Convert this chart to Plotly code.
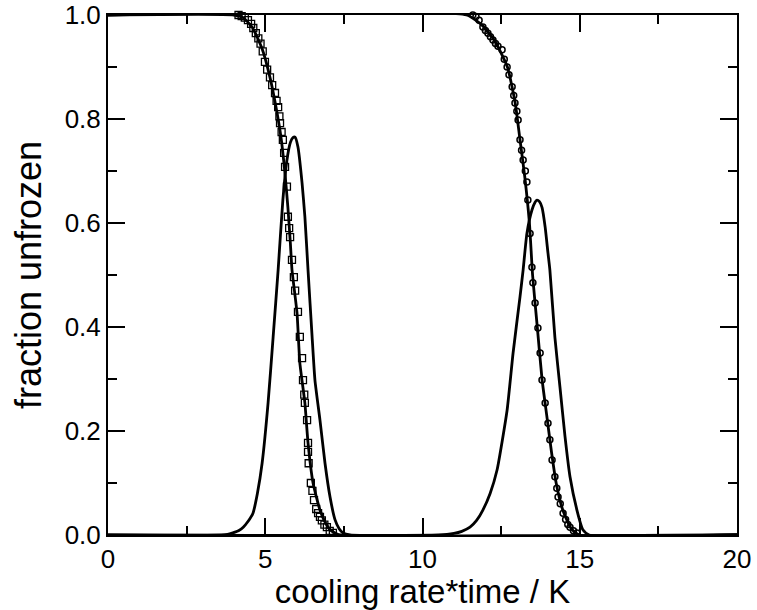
import plotly.graph_objects as go

# Series A (squares) - measured fraction unfrozen
sq_x = [4.15, 4.25, 4.35, 4.45, 4.55, 4.62, 4.7, 4.78, 4.85, 4.92, 4.99, 5.06, 5.15, 5.22, 5.31, 5.36,
        5.41, 5.45, 5.47, 5.52, 5.56, 5.6, 5.63, 5.69, 5.72, 5.76, 5.79, 5.85, 5.91, 5.95, 6.04, 6.1,
        6.17, 6.2, 6.24, 6.26, 6.33, 6.36, 6.36, 6.38, 6.45, 6.5, 6.55, 6.62, 6.68, 6.74, 6.8, 6.88,
        6.96, 7.05, 7.15]
sq_y = [1.0, 0.998, 0.995, 0.99, 0.983, 0.975, 0.965, 0.955, 0.945, 0.93, 0.91, 0.895, 0.88, 0.865, 0.85, 0.835,
        0.823, 0.805, 0.792, 0.775, 0.76, 0.735, 0.708, 0.67, 0.612, 0.59, 0.573, 0.529, 0.496, 0.47, 0.429, 0.381,
        0.34, 0.298, 0.27, 0.254, 0.221, 0.177, 0.16, 0.138, 0.1, 0.085, 0.067, 0.05, 0.042, 0.035, 0.028, 0.02,
        0.015, 0.008, 0.004]

# Fit line through series A
fitA_x = [0, 4.0, 4.3, 4.6, 4.9, 5.15, 5.35, 5.5, 5.62, 5.72, 5.8, 5.85, 6.01, 6.1, 6.26, 6.36, 6.52, 6.74, 6.9, 7.06, 7.25, 7.4, 20]
fitA_y = [1, 1, 0.995, 0.975, 0.935, 0.88, 0.82, 0.765, 0.7, 0.63, 0.56, 0.51, 0.427, 0.331, 0.254, 0.177, 0.1, 0.048, 0.025, 0.01, 0.003, 0, 0]

# Peak curve A
peakA_x = [0, 3.6, 3.8, 3.97, 4.15, 4.3, 4.45, 4.61, 4.75, 4.9, 5.09, 5.25, 5.41, 5.56, 5.69, 5.8, 5.88, 5.95, 6.04,
           6.17, 6.26, 6.36, 6.49, 6.58, 6.74, 6.9, 7.06, 7.22, 7.35, 7.47, 7.7, 20]
peakA_y = [0, 0, 0.001, 0.004, 0.008, 0.015, 0.026, 0.042, 0.08, 0.138, 0.254, 0.38, 0.51, 0.644, 0.721, 0.755,
           0.764, 0.765, 0.746, 0.677, 0.612, 0.51, 0.381, 0.298, 0.221, 0.138, 0.073, 0.029, 0.012, 0.004, 0, 0]

# Series B (circles)
ci_x = [11.6, 11.7, 11.8, 11.92, 12.0, 12.08, 12.16, 12.24, 12.32, 12.4, 12.53, 12.6, 12.69, 12.75, 12.85, 12.9,
        12.94, 13.0, 13.04, 13.1, 13.15, 13.2, 13.27, 13.32, 13.35, 13.42, 13.48, 13.51, 13.58, 13.67, 13.74, 13.8,
        13.9, 13.99, 14.05, 14.12, 14.21, 14.27, 14.31, 14.38, 14.47, 14.55, 14.62, 14.69, 14.8, 14.91]
ci_y = [1.0, 0.997, 0.99, 0.977, 0.97, 0.965, 0.958, 0.952, 0.945, 0.94, 0.933, 0.915, 0.9, 0.885, 0.862, 0.845,
        0.831, 0.815, 0.798, 0.76, 0.74, 0.721, 0.7, 0.679, 0.644, 0.58, 0.515, 0.485, 0.446, 0.398, 0.35, 0.298,
        0.254, 0.215, 0.183, 0.144, 0.112, 0.09, 0.073, 0.06, 0.042, 0.03, 0.02, 0.015, 0.008, 0.004]

# Fit line through series B
fitB_x = [0, 11.4, 11.9, 12.3, 12.7, 12.95, 13.1, 13.25, 13.4, 13.5, 13.65, 13.8, 13.95, 14.1, 14.25, 14.45, 14.7, 14.85, 15.0, 20]
fitB_y = [1, 1, 0.98, 0.95, 0.9, 0.83, 0.76, 0.69, 0.6, 0.5, 0.4, 0.3, 0.23, 0.16, 0.1, 0.05, 0.015, 0.005, 0, 0]

# Peak curve B
peakB_x = [0, 10.5, 11.0, 11.25, 11.51, 11.72, 11.92, 12.15, 12.37, 12.69, 12.88, 13.1, 13.2, 13.32, 13.48, 13.58,
           13.64, 13.72, 13.8, 13.9, 13.99, 14.05, 14.21, 14.37, 14.53, 14.69, 14.91, 15.1, 15.3, 20]
peakB_y = [0, 0, 0.003, 0.007, 0.015, 0.028, 0.048, 0.08, 0.125, 0.24, 0.35, 0.458, 0.51, 0.58, 0.625, 0.64,
           0.644, 0.641, 0.63, 0.592, 0.542, 0.51, 0.38, 0.285, 0.19, 0.112, 0.048, 0.01, 0, 0]

x_ticks = [0, 5, 10, 15, 20]
y_ticks = [0.0, 0.2, 0.4, 0.6, 0.8, 1.0]

LW = 2.8
fig = go.Figure()
for xs, ys in [(fitA_x, fitA_y), (peakA_x, peakA_y), (fitB_x, fitB_y), (peakB_x, peakB_y)]:
    fig.add_trace(go.Scatter(x=xs, y=ys, mode="lines", line=dict(color="black", width=LW, shape="spline", smoothing=0.5),
                             showlegend=False, cliponaxis=False))
fig.add_trace(go.Scatter(x=sq_x, y=sq_y, mode="markers",
                         marker=dict(symbol="square-open", size=7, color="black", line=dict(width=1.3)),
                         showlegend=False, cliponaxis=False))
fig.add_trace(go.Scatter(x=ci_x, y=ci_y, mode="markers",
                         marker=dict(symbol="circle-open", size=6, color="black", line=dict(width=1.5)),
                         showlegend=False, cliponaxis=False))

font = "Liberation Sans, Arial, Helvetica, sans-serif"
axis_common = dict(showgrid=False, zeroline=False, showline=True, linecolor="black", linewidth=2,
                   mirror="ticks", ticks="inside", ticklen=17, tickwidth=1.5, tickcolor="black",
                   automargin=False, ticklabeloverflow="allow",
                   tickfont=dict(family=font, size=26, color="black"))
fig.update_xaxes(range=[0, 20], tickvals=x_ticks, ticktext=[str(v) for v in x_ticks],
                 minor=dict(dtick=2.5, ticks="inside", ticklen=9, tickwidth=1.5, tickcolor="black"),
                 title=dict(text="cooling rate*time / K", font=dict(family=font, size=33, color="black"), standoff=6),
                 **axis_common)
fig.update_yaxes(range=[0, 1], tickvals=y_ticks, ticktext=[f"{v:.1f}" for v in y_ticks],
                 minor=dict(dtick=0.1, ticks="inside", ticklen=9, tickwidth=1.5, tickcolor="black"),
                 title=dict(text="fraction unfrozen", font=dict(family=font, size=36, color="black"), standoff=12),
                 **axis_common)
fig.update_layout(width=757, height=610, margin=dict(l=108, r=20, t=15, b=75),
                  plot_bgcolor="white", paper_bgcolor="white")
fig.write_html("out.html", config={"displayModeBar": False},
               post_script="document.body.style.margin='0';document.body.style.overflow='hidden';")
